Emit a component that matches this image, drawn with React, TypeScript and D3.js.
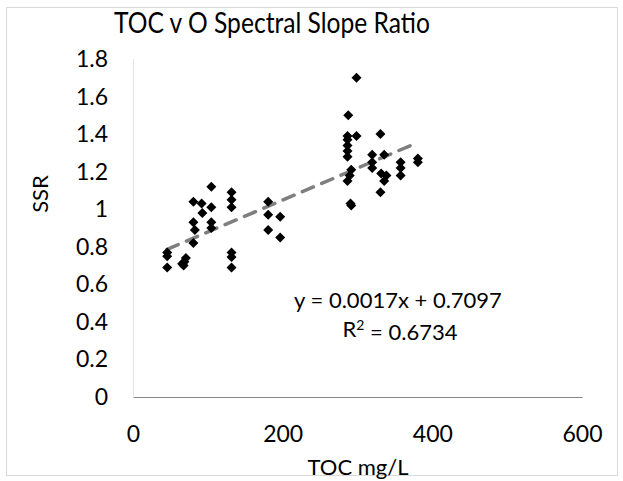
import React from "react";
import * as d3 from "d3";

const tocValues = [
  45, 45, 45, 65, 68, 70, 67,
  80, 80, 82, 80, 91, 92,
  104, 104, 104, 104,
  131, 131, 131, 131, 131, 131,
  180, 180, 196, 180, 196,
  298, 287, 286, 298, 286, 286, 286, 286, 291, 289, 286, 291, 290,
  330, 319, 319, 319, 335, 331, 338, 335, 330, 357, 357, 357, 380, 380,
];
const ssrValues = [
  0.77, 0.75, 0.69, 0.71, 0.72, 0.74, 0.7,
  0.82, 0.93, 0.89, 1.04, 1.03, 0.98,
  1.12, 1.01, 0.93, 0.9,
  1.09, 1.05, 1.01, 0.77, 0.745, 0.69,
  1.04, 0.97, 0.96, 0.89, 0.85,
  1.7, 1.5, 1.39, 1.39, 1.37, 1.34, 1.31, 1.28, 1.21, 1.18, 1.15, 1.02, 1.03,
  1.4, 1.29, 1.25, 1.22, 1.29, 1.19, 1.18, 1.15, 1.09, 1.25, 1.22, 1.18, 1.27, 1.25,
];
const xTicks = [0, 200, 400, 600];
const yTicks = [0, 0.2, 0.4, 0.6, 0.8, 1, 1.2, 1.4, 1.6, 1.8];
const trendSlope = 0.0017;
const trendIntercept = 0.7097;
const titleText = "TOC v O Spectral Slope Ratio";
const xTitle = "TOC mg/L";
const yTitle = "SSR";
const eqText = "y = 0.0017x + 0.7097";

const FONT = "Lato, 'Open Sans', sans-serif";

export default function App() {
  const x = d3.scaleLinear().domain([0, 600]).range([133.5, 582.5]);
  const y = d3.scaleLinear().domain([0, 1.8]).range([397, 59]);
  const xMin = d3.min(tocValues) as number;
  const xMax = d3.max(tocValues) as number;
  const line = d3
    .line<number>()
    .x((d) => x(d))
    .y((d) => y(trendSlope * d + trendIntercept));
  const diamond = "M0,-5L5,0L0,5L-5,0Z";
  const fmt = (v: number) => String(+v.toFixed(1));
  return (
    <svg
      width={623}
      height={481}
      style={{ position: "absolute", left: 0, top: 0, background: "#fff" }}
    >
      <rect x={6.5} y={7.5} width={611} height={468} fill="#fff" stroke="#d9d9d9" />
      <text
        x={272}
        y={33}
        textAnchor="middle"
        fontFamily={FONT}
        fontSize={29}
        fill="#000"
        textLength={316}
        lengthAdjust="spacingAndGlyphs"
      >
        {titleText}
      </text>
      <line x1={133.5} x2={133.5} y1={y(1.8)} y2={y(0)} stroke="#e6e6e6" />
      <line x1={x(0)} x2={x(600)} y1={397.5} y2={397.5} stroke="#868686" strokeWidth={1} />
      {yTicks.map((t) => (
        <text
          key={"y" + t}
          x={108}
          y={y(t)}
          dy="0.35em"
          textAnchor="end"
          fontFamily={FONT}
          fontSize={23}
          fill="#000"
        >
          {fmt(t)}
        </text>
      ))}
      {xTicks.map((t) => (
        <text
          key={"x" + t}
          x={x(t)}
          y={434}
          dy="0.35em"
          textAnchor="middle"
          fontFamily={FONT}
          fontSize={23}
          fill="#000"
        >
          {t}
        </text>
      ))}
      <text
        x={358}
        y={467}
        dy="0.35em"
        textAnchor="middle"
        fontFamily={FONT}
        fontSize={22}
        fill="#000"
      >
        {xTitle}
      </text>
      <text
        transform={`translate(40,194) rotate(-90)`}
        dy="0.35em"
        textAnchor="middle"
        fontFamily={FONT}
        fontSize={22}
        fill="#000"
      >
        {yTitle}
      </text>
      <path
        d={line([xMin, xMax]) || ""}
        fill="none"
        stroke="#7f7f7f"
        strokeWidth={3.5}
        strokeDasharray="12 9"
        strokeLinecap="round"
      />
      {tocValues.map((v, i) => (
        <path
          key={"p" + i}
          d={diamond}
          transform={`translate(${x(v)},${y(ssrValues[i])})`}
          fill="#000"
        />
      ))}
      <text
        x={398}
        y={300}
        dy="0.35em"
        textAnchor="middle"
        fontFamily={FONT}
        fontSize={22}
        fill="#000"
      >
        {eqText}
      </text>
      <text
        x={400}
        y={329}
        dy="0.35em"
        textAnchor="middle"
        fontFamily={FONT}
        fontSize={22}
        fill="#000"
      >
        R<tspan dy="-0.45em" fontSize={14}>2</tspan>
        <tspan dy="0.45em"> = 0.6734</tspan>
      </text>
    </svg>
  );
}
